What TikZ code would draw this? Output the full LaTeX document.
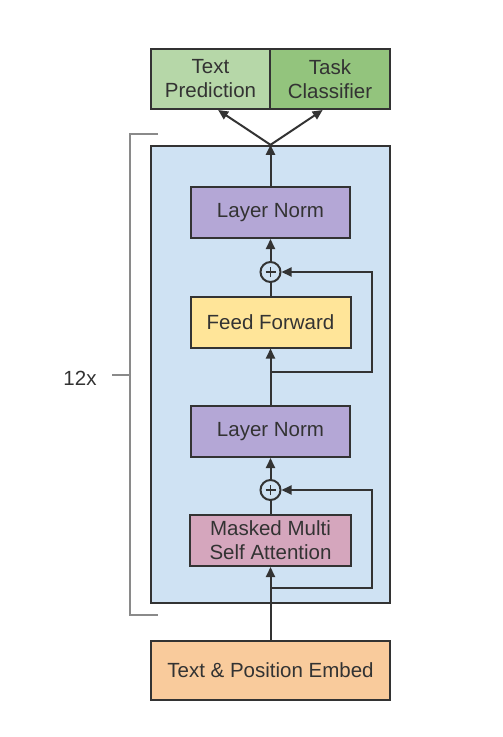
\documentclass[tikz,border=0pt]{standalone}
\usepackage{fontspec}
\setmainfont{Liberation Sans}
\usetikzlibrary{arrows.meta,calc}
\definecolor{txt}{HTML}{333333}
\definecolor{edge}{HTML}{333333}
\definecolor{blk}{HTML}{CFE2F3}
\definecolor{ln}{HTML}{B4A7D6}
\definecolor{ff}{HTML}{FFE599}
\definecolor{mm}{HTML}{D5A6BD}
\definecolor{emb}{HTML}{F9CB9C}
\definecolor{tp}{HTML}{B6D7A8}
\definecolor{tc}{HTML}{93C47D}
\definecolor{brk}{HTML}{8A8A8A}
\tikzset{
  box/.style={draw=edge, line width=2pt, rectangle, inner sep=0pt, align=center,
    text=txt, font=\fontsize{20.5}{24}\selectfont},
  arr/.style={draw=edge, line width=2pt, -{Triangle[length=10pt,width=9pt]}},
  ln/.style={draw=edge, line width=2pt},
  plus/.style={draw=edge, line width=2pt, circle, minimum size=20pt, inner sep=0pt,
    path picture={\draw[edge, line width=1.6pt]
      ([xshift=-5pt]path picture bounding box.center) -- ([xshift=5pt]path picture bounding box.center)
      ([yshift=-5pt]path picture bounding box.center) -- ([yshift=5pt]path picture bounding box.center);}},
}
\begin{document}
\begin{tikzpicture}[x=1pt,y=-1pt]
\useasboundingbox (0,0) rectangle (503,737);
% bracket
\draw[brk, line width=2pt] (158,134) -- (130,134) -- (130,615) -- (158,615);
\draw[brk, line width=2pt] (112,375) -- (130,375);
\node[text=txt, font=\fontsize{20.5}{24}\selectfont] (rep) at (80,378) {12x};
% block
\node[box, fill=blk, line width=2.4pt, minimum width=239pt, minimum height=457pt] (blk) at (270.5,374.5) {};
% outputs
\node[box, fill=tp, minimum width=119pt, minimum height=60pt] (TP) at (210.5,79) {Text\\Prediction};
\node[box, fill=tc, minimum width=120pt, minimum height=60pt] (TC) at (330,79) {Task\\Classifier};
% inner boxes
\node[box, fill=ln, minimum width=159pt, minimum height=51pt] (LN1) at (270.5,212.5) {Layer Norm};
\node[plus] (P1) at (270.5,272) {};
\node[box, fill=ff, minimum width=160pt, minimum height=51pt] (FF) at (270.5,322) {Feed Forward};
\node[box, fill=ln, minimum width=159pt, minimum height=51pt] (LN2) at (270.5,431.5) {Layer Norm};
\node[plus] (P2) at (270.5,490) {};
\node[box, fill=mm, minimum width=161pt, minimum height=51pt] (MM) at (270.5,540.5) {Masked Multi\\Self Attention};
\node[box, fill=emb, minimum width=239pt, minimum height=59pt] (EMB) at (270.5,670.5) {Text \& Position Embed};
% coordinates
\coordinate (top) at (blk.north);
\coordinate (r1) at (270.5,372);
\coordinate (r2) at (270.5,588);
% main flow
\draw[arr] (EMB.north) -- (MM.south);
\draw[ln] (MM.north) -- (P2.south);
\draw[arr] (P2.north) -- (LN2.south);
\draw[arr] (LN2.north) -- (FF.south);
\draw[ln] (FF.north) -- (P1.south);
\draw[arr] (P1.north) -- (LN1.south);
\draw[arr] (LN1.north) -- (top);
\draw[arr] (top) -- ($(TP.south west)!0.563!(TP.south east)$);
\draw[arr] (top) -- ($(TC.south west)!0.44!(TC.south east)$);
% residuals
\draw[arr] (r1) -| ($(P1.east)+(90,0)$) -- (P1.east);
\draw[arr] (r2) -| ($(P2.east)+(90,0)$) -- (P2.east);
\end{tikzpicture}
\end{document}
